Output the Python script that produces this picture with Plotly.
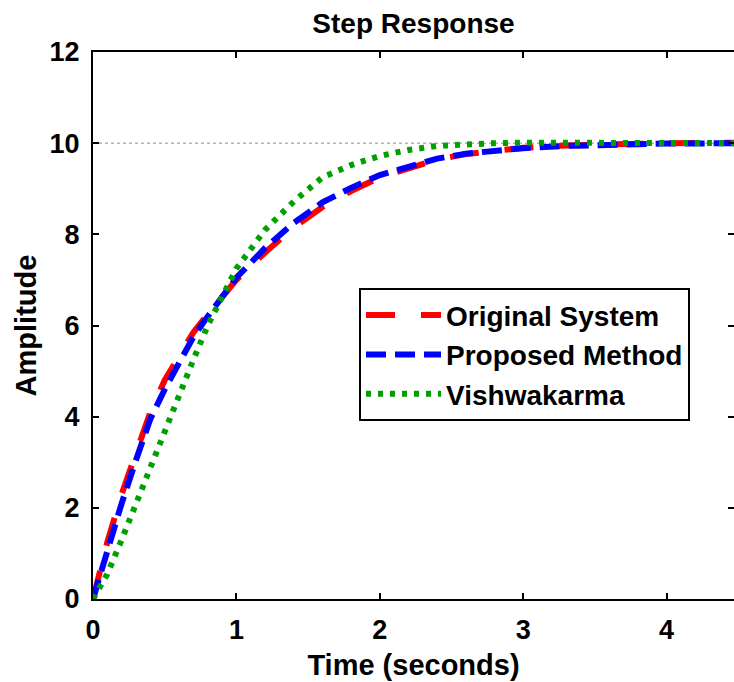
import plotly.graph_objects as go

# Time samples (seconds)
t = [0, 0.1, 0.2, 0.3, 0.4, 0.5, 0.6, 0.7, 0.8, 0.9, 1.0, 1.2, 1.4, 1.6, 1.8,
     2.0, 2.2, 2.4, 2.6, 2.8, 3.0, 3.3, 3.6, 4.0, 4.5]

original = [0, 1.25, 2.3, 3.25, 4.1, 4.8, 5.35, 5.85, 6.25, 6.65, 7.0, 7.6, 8.15,
            8.6, 8.95, 9.25, 9.45, 9.64, 9.76, 9.84, 9.9, 9.95, 9.98, 10.0, 10.01]
proposed = [0, 1.1, 2.1, 3.05, 3.95, 4.6, 5.2, 5.75, 6.2, 6.65, 7.05, 7.7, 8.25,
            8.7, 9.02, 9.3, 9.48, 9.66, 9.77, 9.84, 9.89, 9.94, 9.97, 9.99, 10.0]
vishwakarma = [0, 0.55, 1.3, 2.1, 2.9, 3.7, 4.5, 5.25, 6.0, 6.65, 7.25, 8.1, 8.72,
               9.25, 9.52, 9.72, 9.85, 9.94, 9.98, 10.0, 10.01, 10.01, 10.0, 10.0, 10.0]

steady_x = [0, 4.5]
steady_y = [10, 10]

x_ticks = [0, 1, 2, 3, 4]
y_ticks = [0, 2, 4, 6, 8, 10, 12]

FONT = "Liberation Sans, Arial, sans-serif"

fig = go.Figure()
fig.add_trace(go.Scatter(x=steady_x, y=steady_y, mode="lines", showlegend=False,
                         line=dict(color="#8c8c8c", width=1, dash="dot"), hoverinfo="skip"))
fig.add_trace(go.Scatter(x=t, y=original, mode="lines", name="Original System",
                         line=dict(color="#ff0000", width=6, dash="29px,26px")))
fig.add_trace(go.Scatter(x=t, y=proposed, mode="lines", name="Proposed Method",
                         line=dict(color="#0000ff", width=6, dash="20px,9px")))
fig.add_trace(go.Scatter(x=t, y=vishwakarma, mode="lines", name="Vishwakarma",
                         line=dict(color="#00a000", width=6, dash="5px,7px")))
# empty trace so the right-hand tick axis is drawn
fig.add_trace(go.Scatter(x=[], y=[], yaxis="y2", showlegend=False, hoverinfo="skip"))

tick_font = dict(family=FONT, size=27, color="black", weight="bold")
title_font = dict(family=FONT, size=29, color="black", weight="bold")

axis_common = dict(showgrid=False, zeroline=False, showline=True, linecolor="black",
                   linewidth=2, ticks="inside", ticklen=6, tickwidth=2, tickcolor="black",
                   tickfont=tick_font)

fig.update_layout(
    width=734, height=682,
    margin=dict(l=93, r=0, t=52, b=83),
    paper_bgcolor="white", plot_bgcolor="white",
    title=dict(text="Step Response", x=0.5, xref="paper", y=0.966, yanchor="middle",
               font=dict(family=FONT, size=28, color="black", weight="bold")),
    xaxis=dict(range=[0, 4.47], tickvals=x_ticks, mirror="ticks", ticklabelstandoff=6,
               title=dict(text="Time (seconds)", standoff=10, font=title_font),
               **axis_common),
    yaxis=dict(range=[0, 12], tickvals=y_ticks, mirror=False, ticklabelstandoff=6,
               title=dict(text="Amplitude", standoff=4, font=title_font),
               **axis_common),
    yaxis2=dict(overlaying="y", side="right", range=[0, 12], tickvals=y_ticks,
                showticklabels=False, showline=False, showgrid=False, zeroline=False,
                ticks="inside", ticklen=6, tickwidth=2, tickcolor="black"),
    legend=dict(x=0.415, y=0.568, xanchor="left", yanchor="top",
                bgcolor="white", bordercolor="black", borderwidth=2,
                font=dict(family=FONT, size=28, color="black", weight="bold"),
                itemwidth=75, tracegroupgap=0),
)

fig.write_html("out.html")
